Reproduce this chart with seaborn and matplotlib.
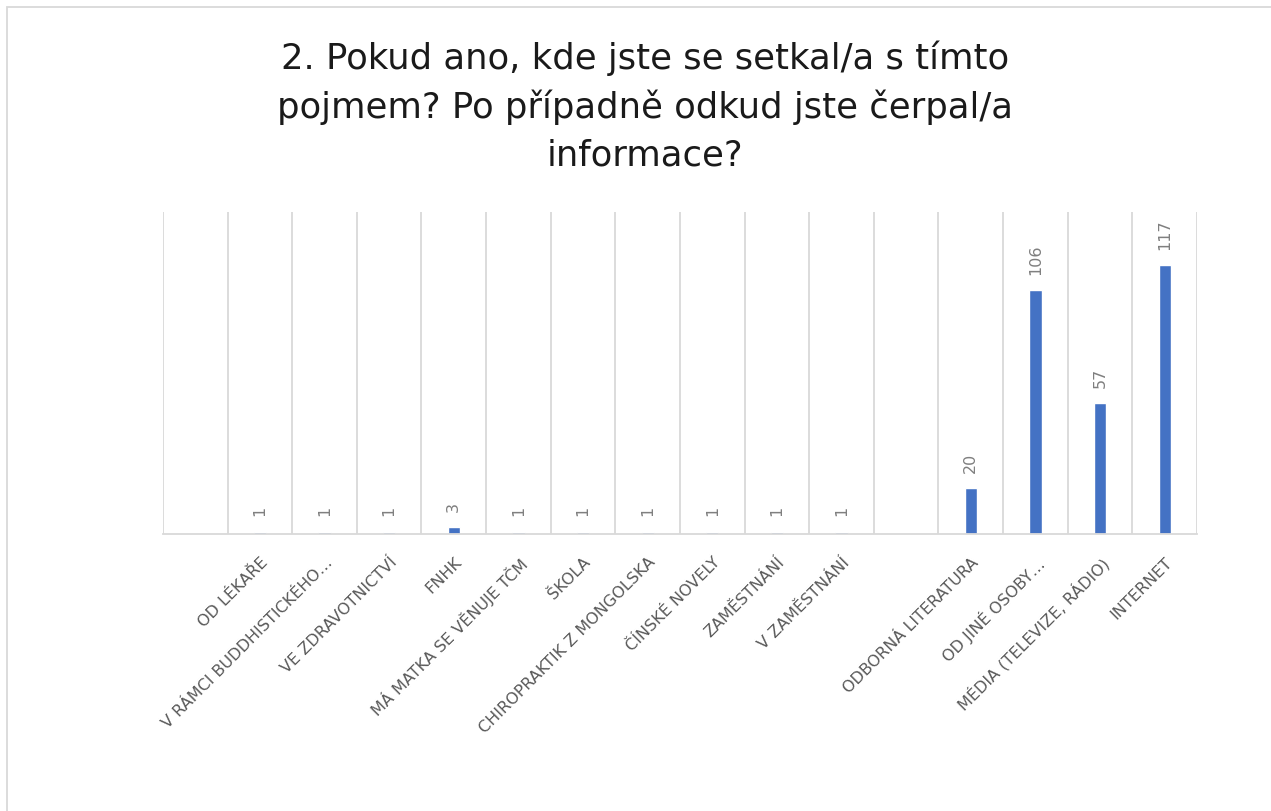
import numpy as np
import pandas as pd
import matplotlib
matplotlib.use("Agg")
import matplotlib.pyplot as plt
import seaborn as sns
from matplotlib.patches import Rectangle

# Data (empty slots are categories without a value)
categories = [
    "",
    "OD LÉKAŘE",
    "V RÁMCI BUDDHISTICKÉHO…",
    "VE ZDRAVOTNICTVÍ",
    "FNHK",
    "MÁ MATKA SE VĚNUJE TČM",
    "ŠKOLA",
    "CHIROPRAKTIK Z MONGOLSKA",
    "ČÍNSKÉ NOVELY",
    "ZAMĚSTNÁNÍ",
    "V ZAMĚSTNÁNÍ",
    "",
    "ODBORNÁ LITERATURA",
    "OD JINÉ OSOBY…",
    "MÉDIA (TELEVIZE, RÁDIO)",
    "INTERNET",
]
values = [np.nan, 1, 1, 1, 3, 1, 1, 1, 1, 1, 1, np.nan, 20, 106, 57, 117]
title = "2. Pokud ano, kde jste se setkal/a s tímto\npojmem? Po případně odkud jste čerpal/a\ninformace?"

df = pd.DataFrame({"pos": range(len(categories)), "value": values})

sns.set_style("white")
plt.rcParams["font.family"] = ["DejaVu Sans"]

fig = plt.figure(figsize=(12.71, 8.11), dpi=100)
ax = fig.add_axes([163 / 1271, 1 - 534 / 811, (1197 - 163) / 1271, (534 - 212) / 811])

sns.barplot(data=df.dropna(), x="pos", y="value", order=list(range(len(categories))),
            color="#4472C4", saturation=1, width=0.19, ax=ax)

for cont in ax.containers:
    ax.bar_label(cont, fmt="%d", rotation=90, padding=11, fontsize=11.5, color="#7f7f7f")

ax.set_ylim(0, 140)
ax.set_xlim(-0.5, len(categories) - 0.5)
ax.set_yticks([])
ax.set_xlabel("")
ax.set_ylabel("")

# category separators
ax.set_xticks(np.arange(-0.5, len(categories)), minor=True)
ax.grid(which="minor", axis="x", color="#d9d9d9", linewidth=1.3)
ax.tick_params(axis="x", which="both", length=0, pad=15)
ax.set_xticks(range(len(categories)))
ax.set_xticklabels(categories, rotation=45, ha="right", rotation_mode="anchor",
                   fontsize=11.5, color="#595959")

for side in ["top", "left", "right"]:
    ax.spines[side].set_visible(False)
ax.spines["bottom"].set_color("#d9d9d9")
ax.spines["bottom"].set_linewidth(1.3)

fig.text(645 / 1271, 1 - 40 / 811, title, ha="center", va="top", fontsize=25.5,
         color="#1a1a1a", linespacing=1.5)

fig.patches.append(Rectangle((7 / 1271, -0.1), 1.2, 1 - 7 / 811 + 0.1, transform=fig.transFigure,
                             fill=False, edgecolor="#d9d9d9", linewidth=1.3))

fig.savefig("out.png", dpi=100)
